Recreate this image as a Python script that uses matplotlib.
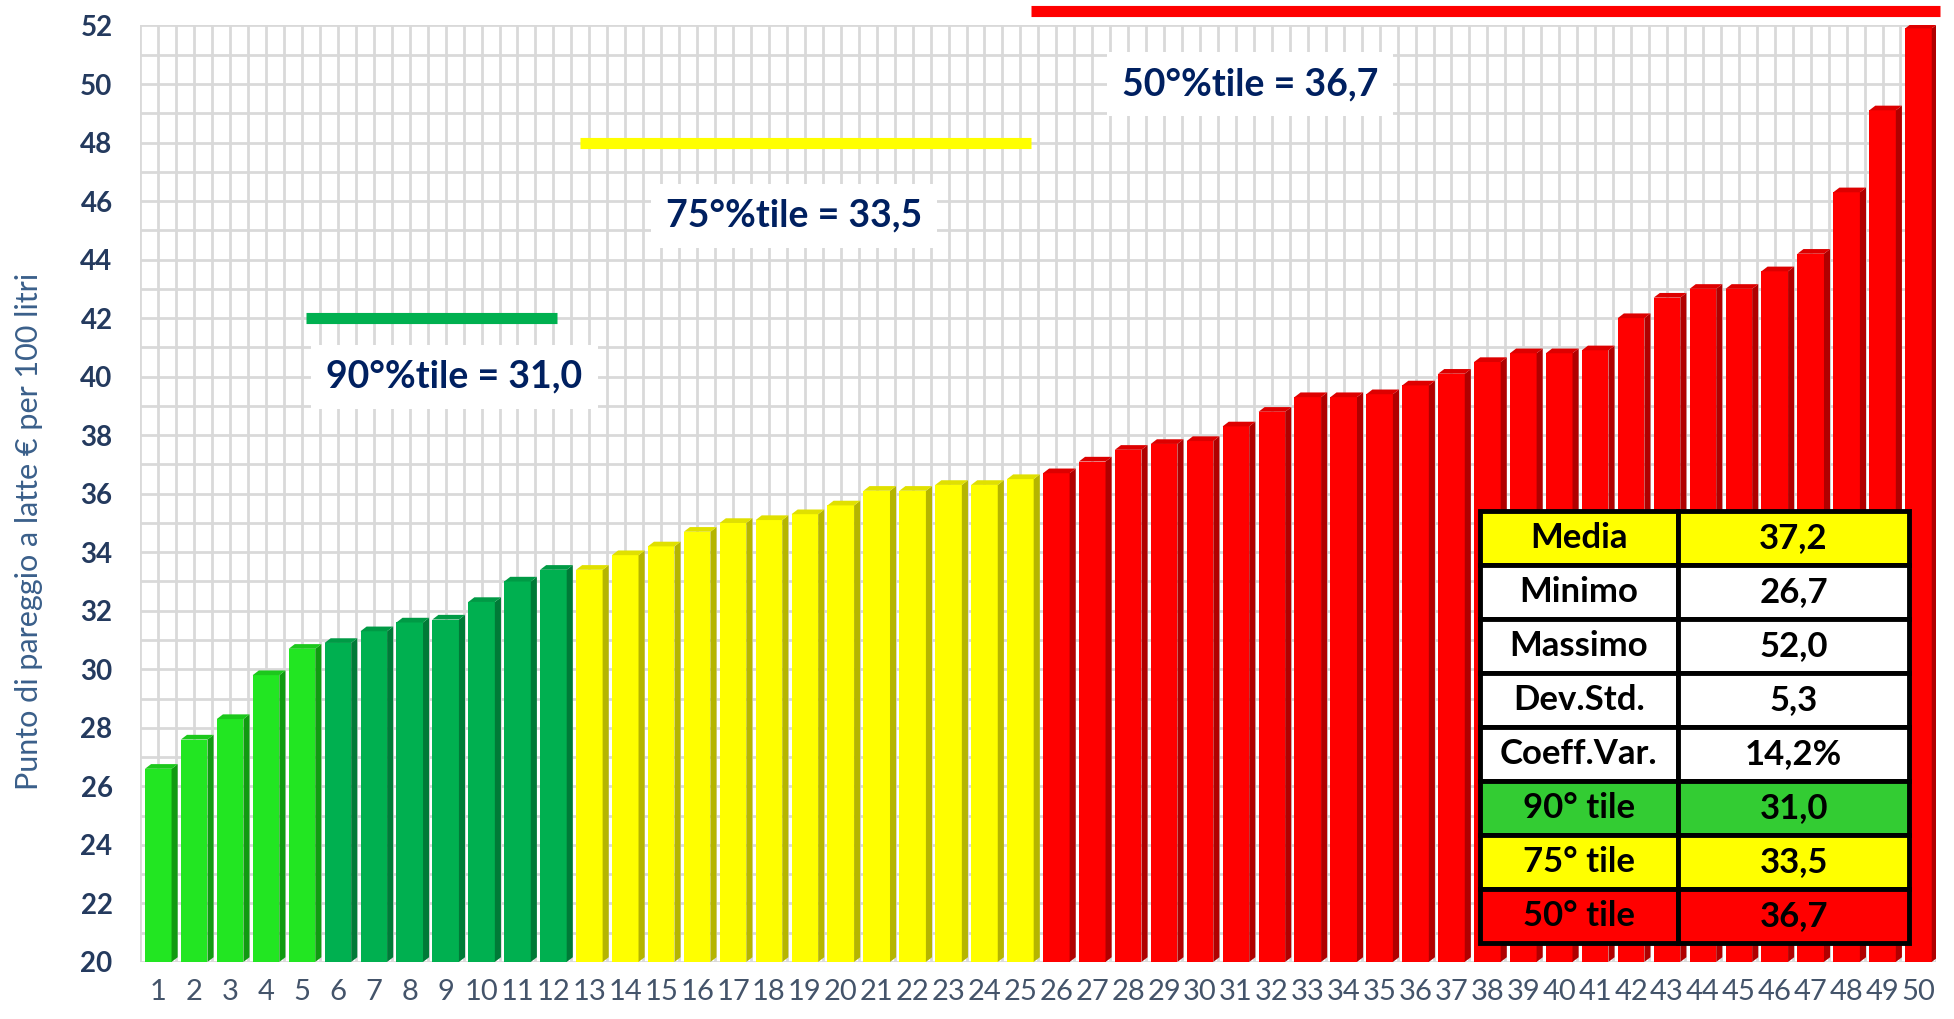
import numpy as np
import matplotlib.pyplot as plt
from matplotlib.patches import Polygon

# dati
aziende = list(range(1, 51))
valori = [26.7, 27.7, 28.4, 29.9, 30.8, 31.0, 31.4, 31.7, 31.8, 32.4,
          33.1, 33.5, 33.5, 34.0, 34.3, 34.8, 35.1, 35.2, 35.4, 35.7,
          36.2, 36.2, 36.4, 36.4, 36.6, 36.8, 37.2, 37.6, 37.8, 37.9,
          38.4, 38.9, 39.4, 39.4, 39.5, 39.8, 40.2, 40.6, 40.9, 40.9,
          41.0, 42.1, 42.8, 43.1, 43.1, 43.7, 44.3, 46.4, 49.2, 52.0]
gruppi = [0] * 5 + [1] * 7 + [2] * 13 + [3] * 25

colori_fronte = ['#22E622', '#00B050', '#FFFF00', '#FF0000']
colori_lato = ['#119A11', '#007A37', '#B5B500', '#B00000']
colori_sopra = ['#1CC81C', '#009A45', '#E0E000', '#DD0000']

percentili = [('90°%tile = 31,0', 42.0, 5.1, 12.1, '#00B050', 9.25, 40.0),
              ('75°%tile = 33,5', 48.0, 12.75, 25.3, '#FFFF00', 18.7, 45.5),
              ('50°%tile = 36,7', 52.5, 25.3, 50.6, '#FF0000', 31.4, 50.0)]

tab_etichette = ['Media', 'Minimo', 'Massimo', 'Dev.Std.', 'Coeff.Var.',
                 '90° tile', '75° tile', '50° tile']
tab_valori = ['37,2', '26,7', '52,0', '5,3', '14,2%', '31,0', '33,5', '36,7']
tab_colori = ['#FFFF00', 'white', 'white', 'white', 'white',
              '#33CC33', '#FFFF00', '#FF0000']

fig = plt.figure(figsize=(19.54, 10.19), dpi=100)
ax = fig.add_axes([0.0718, 0.056, 0.9192, 0.919])

base = 20
w = 0.74
d = 0.17
dy = 0.16
x = np.array(aziende)
v = np.array(valori) - 0.1
ax.bar(x, v - base, bottom=base, width=w,
       color=[colori_fronte[g] for g in gruppi], zorder=3)
for xi, vi, g in zip(x, v, gruppi):
    r = xi + w / 2
    l = xi - w / 2
    ax.add_patch(Polygon([(r, base), (r + d, base + dy), (r + d, vi + dy), (r, vi)],
                         closed=True, fc=colori_lato[g], ec='none', zorder=3))
    ax.add_patch(Polygon([(l, vi), (l + d, vi + dy), (r + d, vi + dy), (r, vi)],
                         closed=True, fc=colori_sopra[g], ec='none', zorder=3))

for testo, yl, x0, x1, col, xt, yt in percentili:
    ax.plot([x0, x1], [yl, yl], color=col, lw=8, solid_capstyle='butt',
            clip_on=False, zorder=4)
    ax.text(xt, yt, testo, ha='center', va='center', fontsize=27,
            fontweight='bold', color='#002060', family='Lato', zorder=5,
            bbox=dict(boxstyle='square,pad=0.4', fc='white', ec='none'))

ax.set_xlim(0.5, 50.5)
ax.set_ylim(20, 52)
ax.set_xticks(x)
ax.set_xticklabels([str(a) for a in aziende], fontsize=21, color='#44546A',
                   family='Lato')
ax.set_xticks(np.arange(0.5, 51, 1), minor=True)
ax.set_yticks(np.arange(20, 53, 2))
ax.set_yticks(np.arange(20, 53, 1), minor=True)
for t in ax.get_yticklabels():
    t.set_fontsize(20)
    t.set_fontweight('bold')
    t.set_color('#243A5E')
    t.set_family('Lato')
ax.tick_params(axis='both', which='both', length=0)
ax.tick_params(axis='y', pad=20)
ax.tick_params(axis='x', pad=12)
ax.grid(True, which='both', color='#D9D9D9', lw=2, zorder=0)
ax.set_axisbelow(True)
for s in ax.spines.values():
    s.set_visible(False)

ax.set_ylabel('Punto di pareggio a latte € per 100 litri', fontsize=22,
              color='#3A5F8A', family='Lato')
ax.yaxis.set_label_coords(-0.054, 0.46)

celle = [[e, val] for e, val in zip(tab_etichette, tab_valori)]
tab = ax.table(cellText=celle, cellColours=[[c, c] for c in tab_colori],
               colWidths=[0.46, 0.54], cellLoc='center',
               bbox=[0.746, 0.020, 0.239, 0.461], zorder=6)
tab.auto_set_font_size(False)
for (r, c), cella in tab.get_celld().items():
    cella.set_edgecolor('black')
    cella.set_linewidth(3.5)
    cella.get_text().set_fontsize(25)
    cella.get_text().set_fontweight('bold')
    cella.get_text().set_family('Lato')
    cella.get_text().set_color('black')

fig.savefig('out.png', dpi=100)
